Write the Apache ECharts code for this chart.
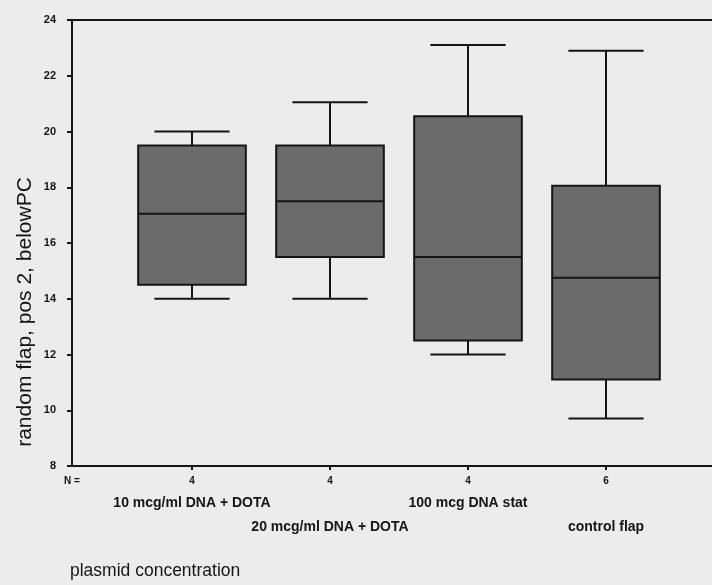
<!DOCTYPE html>
<html>
<head>
<meta charset="utf-8">
<script src="https://cdn.jsdelivr.net/npm/echarts@6/dist/echarts.min.js"></script>
<style>
  html, body { margin: 0; padding: 0; background: #ececec; }
  #chart { width: 712px; height: 585px; }
</style>
</head>
<body>
<div id="chart"></div>
<script>
// ---- data ----
var categories = ['10 mcg/ml DNA + DOTA', '20 mcg/ml DNA + DOTA', '100 mcg DNA stat', 'control flap'];
var counts = [4, 4, 4, 6];
var whiskerLow = [14, 14, 12, 9.7];
var quartile1 = [14.5, 15.5, 12.5, 11.1];
var medians = [17.05, 17.5, 15.5, 14.75];
var quartile3 = [19.5, 19.5, 20.55, 18.05];
var whiskerHigh = [20, 21.05, 23.1, 22.9];
var yTicks = { min: 8, max: 24, interval: 2 };
var yTitle = 'random flap, pos 2, belowPC';
var xTitle = 'plasmid concentration';

var FONT = 'Liberation Sans, Arial, sans-serif';
var INK = '#151515';

var boxData = categories.map(function (c, i) {
  return [i, whiskerLow[i], quartile1[i], medians[i], quartile3[i], whiskerHigh[i]];
});

function renderBox(params, api) {
  var idx = api.value(0);
  var band = api.size([1, 0])[0];
  var boxW = band * 0.78;
  var capW = band * 0.545;
  var cx = api.coord([idx, api.value(3)])[0];
  function y(dim) { return api.coord([idx, api.value(dim)])[1]; }
  var yLow = y(1), yQ1 = y(2), yMed = y(3), yQ3 = y(4), yHigh = y(5);
  var lineStyle = { stroke: INK, lineWidth: 2 };
  return {
    type: 'group',
    children: [
      { type: 'line', shape: { x1: cx, y1: yHigh, x2: cx, y2: yQ3 }, style: lineStyle },
      { type: 'line', shape: { x1: cx, y1: yQ1, x2: cx, y2: yLow }, style: lineStyle },
      { type: 'line', shape: { x1: cx - capW / 2, y1: yHigh, x2: cx + capW / 2, y2: yHigh }, style: lineStyle },
      { type: 'line', shape: { x1: cx - capW / 2, y1: yLow, x2: cx + capW / 2, y2: yLow }, style: lineStyle },
      { type: 'rect', shape: { x: cx - boxW / 2, y: yQ3, width: boxW, height: yQ1 - yQ3 },
        style: { fill: '#6b6b6b', stroke: INK, lineWidth: 2 } },
      { type: 'line', shape: { x1: cx - boxW / 2, y1: yMed, x2: cx + boxW / 2, y2: yMed }, style: lineStyle }
    ]
  };
}

var chart = echarts.init(document.getElementById('chart'), null, { renderer: 'canvas' });
chart.setOption({
  backgroundColor: '#ececec',
  animation: false,
  grid: [
    { left: 72, width: 640, top: 20, height: 446 },
    { left: 123, width: 552, top: 20, height: 446 }
  ],
  xAxis: [
    { gridIndex: 0, type: 'value', min: 0, max: 1, position: 'bottom',
      axisLine: { show: true, lineStyle: { color: INK, width: 2 } },
      axisTick: { show: false }, axisLabel: { show: false }, splitLine: { show: false } },
    { gridIndex: 0, type: 'value', min: 0, max: 1, position: 'top',
      axisLine: { show: true, lineStyle: { color: INK, width: 2 } },
      axisTick: { show: false }, axisLabel: { show: false }, splitLine: { show: false } },
    { gridIndex: 1, type: 'category', data: categories, boundaryGap: true, position: 'bottom',
      axisLine: { show: false },
      axisTick: { show: true, alignWithLabel: true, length: 4, lineStyle: { color: INK, width: 2 } },
      axisLabel: {
        interval: 0, margin: 8, color: INK, fontFamily: FONT,
        formatter: function (value, index) {
          return '{n|' + counts[index] + '}\n' + (index % 2 === 0 ? '{a|' : '{b|') + value + '}';
        },
        rich: {
          n: { fontSize: 10, fontWeight: 'bold', lineHeight: 14, fontFamily: FONT, color: INK },
          a: { fontSize: 14, fontWeight: 'bold', lineHeight: 30, fontFamily: FONT, color: INK },
          b: { fontSize: 14, fontWeight: 'bold', lineHeight: 78, fontFamily: FONT, color: INK }
        }
      },
      splitLine: { show: false } }
  ],
  yAxis: [
    { gridIndex: 0, type: 'value', min: yTicks.min, max: yTicks.max, interval: yTicks.interval,
      axisLine: { show: true, lineStyle: { color: INK, width: 2 } },
      axisTick: { show: true, length: 5, lineStyle: { color: INK, width: 2 } },
      axisLabel: { margin: 16, fontSize: 11, fontWeight: 'bold', color: INK, fontFamily: FONT },
      splitLine: { show: false } },
    { gridIndex: 1, type: 'value', min: yTicks.min, max: yTicks.max, interval: yTicks.interval, show: false }
  ],
  graphic: [
    { type: 'text', x: 25, y: 312, rotation: Math.PI / 2,
      style: { text: yTitle, font: '21px ' + FONT, fill: INK, align: 'center', verticalAlign: 'middle' } },
    { type: 'text', x: 70, y: 571,
      style: { text: xTitle, font: '17.5px ' + FONT, fill: INK, align: 'left', verticalAlign: 'middle' } },
    { type: 'text', x: 64, y: 481,
      style: { text: 'N =', font: 'bold 10px ' + FONT, fill: INK, align: 'left', verticalAlign: 'middle' } }
  ],
  series: [
    { type: 'custom', xAxisIndex: 2, yAxisIndex: 1, renderItem: renderBox,
      encode: { x: 0, y: [1, 2, 3, 4, 5] }, data: boxData, silent: true }
  ]
});
</script>
</body>
</html>
